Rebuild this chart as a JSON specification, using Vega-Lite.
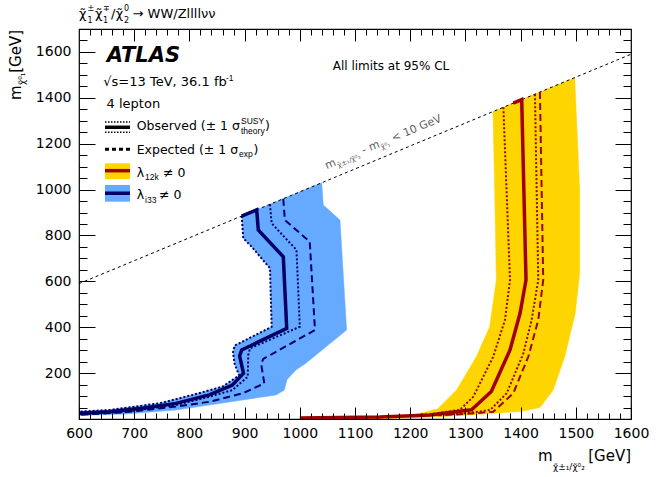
{
  "$schema": "https://vega.github.io/schema/vega-lite/v6.json",
  "width": 552,
  "height": 390,
  "autosize": {"type": "none"},
  "padding": {"left": 79, "top": 29, "right": 33, "bottom": 58},
  "background": "white",
  "config": {"view": {"stroke": "black", "strokeWidth": 1.2}},
  "resolve": {"axis": {"x": "independent", "y": "independent"}},
  "datasets": {
    "bands": [
      {"m": "12k", "i": 1, "x": 1350, "y": 1340},
      {"m": "12k", "i": 2, "x": 1498, "y": 1488},
      {"m": "12k", "i": 3, "x": 1507, "y": 1000},
      {"m": "12k", "i": 4, "x": 1507, "y": 635},
      {"m": "12k", "i": 5, "x": 1499, "y": 461},
      {"m": "12k", "i": 6, "x": 1480, "y": 272},
      {"m": "12k", "i": 7, "x": 1459, "y": 126},
      {"m": "12k", "i": 8, "x": 1435, "y": 50},
      {"m": "12k", "i": 9, "x": 1400, "y": 33},
      {"m": "12k", "i": 10, "x": 1326, "y": 21},
      {"m": "12k", "i": 11, "x": 1260, "y": 11},
      {"m": "12k", "i": 12, "x": 1190, "y": 4},
      {"m": "12k", "i": 13, "x": 1140, "y": 1},
      {"m": "12k", "i": 14, "x": 1170, "y": 7},
      {"m": "12k", "i": 15, "x": 1210, "y": 20},
      {"m": "12k", "i": 16, "x": 1250, "y": 45},
      {"m": "12k", "i": 17, "x": 1284, "y": 126},
      {"m": "12k", "i": 18, "x": 1320, "y": 272},
      {"m": "12k", "i": 19, "x": 1344, "y": 402},
      {"m": "12k", "i": 20, "x": 1356, "y": 606},
      {"m": "12k", "i": 21, "x": 1353, "y": 1000},
      {"m": "12k", "i": 22, "x": 1350, "y": 1340},
      {"m": "i33", "i": 1, "x": 894.7, "y": 884.7},
      {"m": "i33", "i": 2, "x": 1039.6, "y": 1029.6},
      {"m": "i33", "i": 3, "x": 1042.6, "y": 933},
      {"m": "i33", "i": 4, "x": 1072.8, "y": 867},
      {"m": "i33", "i": 5, "x": 1084.8, "y": 388},
      {"m": "i33", "i": 6, "x": 1011, "y": 243},
      {"m": "i33", "i": 7, "x": 993, "y": 214},
      {"m": "i33", "i": 8, "x": 977, "y": 172},
      {"m": "i33", "i": 9, "x": 972, "y": 126},
      {"m": "i33", "i": 10, "x": 957, "y": 105},
      {"m": "i33", "i": 11, "x": 896.5, "y": 83},
      {"m": "i33", "i": 12, "x": 836, "y": 61},
      {"m": "i33", "i": 13, "x": 775.7, "y": 39},
      {"m": "i33", "i": 14, "x": 685, "y": 22},
      {"m": "i33", "i": 15, "x": 600, "y": 15},
      {"m": "i33", "i": 16, "x": 600, "y": 33},
      {"m": "i33", "i": 17, "x": 655, "y": 40},
      {"m": "i33", "i": 18, "x": 745, "y": 69},
      {"m": "i33", "i": 19, "x": 806, "y": 106},
      {"m": "i33", "i": 20, "x": 860, "y": 142},
      {"m": "i33", "i": 21, "x": 890, "y": 190},
      {"m": "i33", "i": 22, "x": 882, "y": 240},
      {"m": "i33", "i": 23, "x": 879, "y": 290},
      {"m": "i33", "i": 24, "x": 882, "y": 320},
      {"m": "i33", "i": 25, "x": 949, "y": 402},
      {"m": "i33", "i": 26, "x": 946, "y": 657},
      {"m": "i33", "i": 27, "x": 912.7, "y": 751},
      {"m": "i33", "i": 28, "x": 897.6, "y": 788},
      {"m": "i33", "i": 29, "x": 894.7, "y": 884.7}
    ],
    "curves": [
      {"m": "i33", "k": "obs", "i": 1, "x": 894.7, "y": 884.7},
      {"m": "i33", "k": "obs", "i": 2, "x": 921.9, "y": 911.9},
      {"m": "i33", "k": "obs", "i": 3, "x": 924.8, "y": 824},
      {"m": "i33", "k": "obs", "i": 4, "x": 970.1, "y": 707},
      {"m": "i33", "k": "obs", "i": 5, "x": 976.3, "y": 395},
      {"m": "i33", "k": "obs", "i": 6, "x": 894.7, "y": 301},
      {"m": "i33", "k": "obs", "i": 7, "x": 891, "y": 275},
      {"m": "i33", "k": "obs", "i": 8, "x": 898, "y": 199},
      {"m": "i33", "k": "obs", "i": 9, "x": 878, "y": 148},
      {"m": "i33", "k": "obs", "i": 10, "x": 836, "y": 105},
      {"m": "i33", "k": "obs", "i": 11, "x": 775.7, "y": 68},
      {"m": "i33", "k": "obs", "i": 12, "x": 715, "y": 47},
      {"m": "i33", "k": "obs", "i": 13, "x": 655, "y": 32},
      {"m": "i33", "k": "obs", "i": 14, "x": 600, "y": 25},
      {"m": "i33", "k": "obsDn", "i": 1, "x": 894.7, "y": 884.7},
      {"m": "i33", "k": "obsDn", "i": 2, "x": 897.6, "y": 788},
      {"m": "i33", "k": "obsDn", "i": 3, "x": 912.7, "y": 751},
      {"m": "i33", "k": "obsDn", "i": 4, "x": 946, "y": 657},
      {"m": "i33", "k": "obsDn", "i": 5, "x": 949, "y": 402},
      {"m": "i33", "k": "obsDn", "i": 6, "x": 882, "y": 320},
      {"m": "i33", "k": "obsDn", "i": 7, "x": 879, "y": 290},
      {"m": "i33", "k": "obsDn", "i": 8, "x": 882, "y": 240},
      {"m": "i33", "k": "obsDn", "i": 9, "x": 890, "y": 190},
      {"m": "i33", "k": "obsDn", "i": 10, "x": 860, "y": 141},
      {"m": "i33", "k": "obsDn", "i": 11, "x": 806, "y": 105},
      {"m": "i33", "k": "obsDn", "i": 12, "x": 745, "y": 68},
      {"m": "i33", "k": "obsDn", "i": 13, "x": 655, "y": 39},
      {"m": "i33", "k": "obsDn", "i": 14, "x": 600, "y": 32},
      {"m": "i33", "k": "obsUp", "i": 1, "x": 946, "y": 936},
      {"m": "i33", "k": "obsUp", "i": 2, "x": 949, "y": 853},
      {"m": "i33", "k": "obsUp", "i": 3, "x": 994, "y": 737},
      {"m": "i33", "k": "obsUp", "i": 4, "x": 1000, "y": 402},
      {"m": "i33", "k": "obsUp", "i": 5, "x": 909.8, "y": 308},
      {"m": "i33", "k": "obsUp", "i": 6, "x": 906.7, "y": 279},
      {"m": "i33", "k": "obsUp", "i": 7, "x": 905.6, "y": 184},
      {"m": "i33", "k": "obsUp", "i": 8, "x": 878, "y": 126},
      {"m": "i33", "k": "obsUp", "i": 9, "x": 836, "y": 97},
      {"m": "i33", "k": "obsUp", "i": 10, "x": 775.7, "y": 61},
      {"m": "i33", "k": "obsUp", "i": 11, "x": 685, "y": 32},
      {"m": "i33", "k": "obsUp", "i": 12, "x": 600, "y": 20},
      {"m": "i33", "k": "exp", "i": 1, "x": 970, "y": 960},
      {"m": "i33", "k": "exp", "i": 2, "x": 973, "y": 867},
      {"m": "i33", "k": "exp", "i": 3, "x": 1018, "y": 773},
      {"m": "i33", "k": "exp", "i": 4, "x": 1027.5, "y": 388},
      {"m": "i33", "k": "exp", "i": 5, "x": 933.9, "y": 262},
      {"m": "i33", "k": "exp", "i": 6, "x": 930, "y": 240},
      {"m": "i33", "k": "exp", "i": 7, "x": 935.7, "y": 155},
      {"m": "i33", "k": "exp", "i": 8, "x": 896.5, "y": 112},
      {"m": "i33", "k": "exp", "i": 9, "x": 836, "y": 75},
      {"m": "i33", "k": "exp", "i": 10, "x": 775.7, "y": 54},
      {"m": "i33", "k": "exp", "i": 11, "x": 685, "y": 30},
      {"m": "i33", "k": "exp", "i": 12, "x": 600, "y": 18},
      {"m": "12k", "k": "obs", "i": 1, "x": 1386.7, "y": 1376.7},
      {"m": "12k", "k": "obs", "i": 2, "x": 1402, "y": 1392},
      {"m": "12k", "k": "obs", "i": 3, "x": 1409.8, "y": 606},
      {"m": "12k", "k": "obs", "i": 4, "x": 1399, "y": 461},
      {"m": "12k", "k": "obs", "i": 5, "x": 1380.8, "y": 301},
      {"m": "12k", "k": "obs", "i": 6, "x": 1347, "y": 120},
      {"m": "12k", "k": "obs", "i": 7, "x": 1311, "y": 40},
      {"m": "12k", "k": "obs", "i": 8, "x": 1236, "y": 17},
      {"m": "12k", "k": "obs", "i": 9, "x": 1145, "y": 9},
      {"m": "12k", "k": "obs", "i": 10, "x": 1000, "y": 4},
      {"m": "12k", "k": "obsDn", "i": 1, "x": 1368.8, "y": 1358.8},
      {"m": "12k", "k": "obsDn", "i": 2, "x": 1380.8, "y": 606},
      {"m": "12k", "k": "obsDn", "i": 3, "x": 1371.7, "y": 432},
      {"m": "12k", "k": "obsDn", "i": 4, "x": 1350.5, "y": 272},
      {"m": "12k", "k": "obsDn", "i": 5, "x": 1314.3, "y": 97},
      {"m": "12k", "k": "obsDn", "i": 6, "x": 1290, "y": 40},
      {"m": "12k", "k": "obsDn", "i": 7, "x": 1240, "y": 22},
      {"m": "12k", "k": "obsDn", "i": 8, "x": 1200, "y": 14},
      {"m": "12k", "k": "obsUp", "i": 1, "x": 1426, "y": 1416},
      {"m": "12k", "k": "obsUp", "i": 2, "x": 1432, "y": 606},
      {"m": "12k", "k": "obsUp", "i": 3, "x": 1420, "y": 432},
      {"m": "12k", "k": "obsUp", "i": 4, "x": 1405, "y": 286},
      {"m": "12k", "k": "obsUp", "i": 5, "x": 1374.8, "y": 112},
      {"m": "12k", "k": "obsUp", "i": 6, "x": 1344.6, "y": 39},
      {"m": "12k", "k": "obsUp", "i": 7, "x": 1300, "y": 25},
      {"m": "12k", "k": "obsUp", "i": 8, "x": 1250, "y": 18},
      {"m": "12k", "k": "exp", "i": 1, "x": 1435, "y": 1425},
      {"m": "12k", "k": "exp", "i": 2, "x": 1441, "y": 606},
      {"m": "12k", "k": "exp", "i": 3, "x": 1432, "y": 432},
      {"m": "12k", "k": "exp", "i": 4, "x": 1414, "y": 272},
      {"m": "12k", "k": "exp", "i": 5, "x": 1386.7, "y": 112},
      {"m": "12k", "k": "exp", "i": 6, "x": 1350.5, "y": 32},
      {"m": "12k", "k": "exp", "i": 7, "x": 1300, "y": 22},
      {"m": "12k", "k": "exp", "i": 8, "x": 1250, "y": 16}
    ]
  },
  "layer": [
    {
      "data": {"name": "bands"},
      "transform": [{"filter": "datum.m === '12k'"}],
      "mark": {"type": "line", "fill": "#FFD500", "stroke": "#FFD500", "strokeWidth": 0.5, "clip": true},
      "encoding": {
        "x": {"field": "x", "type": "quantitative", "scale": {"domain": [600, 1600], "nice": false, "zero": false}, "axis": null},
        "y": {"field": "y", "type": "quantitative", "scale": {"domain": [0, 1700], "nice": false, "zero": false}, "axis": null},
        "order": {"field": "i", "type": "quantitative"}
      }
    },
    {
      "data": {"name": "bands"},
      "transform": [{"filter": "datum.m === 'i33'"}],
      "mark": {"type": "line", "fill": "#66AAFF", "stroke": "#66AAFF", "strokeWidth": 0.5, "clip": true},
      "encoding": {
        "x": {"field": "x", "type": "quantitative", "axis": null},
        "y": {"field": "y", "type": "quantitative", "axis": null},
        "order": {"field": "i", "type": "quantitative"}
      }
    },
    {
      "data": {"values": [{"x": 600, "y": 590}, {"x": 1600, "y": 1590}]},
      "mark": {"type": "line", "color": "black", "strokeWidth": 1, "strokeDash": [3, 3]},
      "encoding": {
        "x": {"field": "x", "type": "quantitative", "axis": null},
        "y": {"field": "y", "type": "quantitative", "axis": null}
      }
    },
    {
      "data": {"name": "curves"},
      "transform": [{"filter": "datum.k === 'exp'"}],
      "mark": {"type": "line", "strokeWidth": 2, "strokeDash": [7, 4], "clip": true},
      "encoding": {
        "x": {"field": "x", "type": "quantitative", "axis": null},
        "y": {"field": "y", "type": "quantitative", "axis": null},
        "color": {"field": "m", "type": "nominal", "scale": {"domain": ["i33", "12k"], "range": ["#000066", "#A00000"]}, "legend": null},
        "order": {"field": "i", "type": "quantitative"}
      }
    },
    {
      "data": {"name": "curves"},
      "transform": [{"filter": "datum.k === 'obsUp' || datum.k === 'obsDn'"}],
      "mark": {"type": "line", "strokeWidth": 2, "strokeDash": [2, 2], "clip": true},
      "encoding": {
        "x": {"field": "x", "type": "quantitative", "axis": null},
        "y": {"field": "y", "type": "quantitative", "axis": null},
        "color": {"field": "m", "type": "nominal", "legend": null},
        "detail": {"field": "k"},
        "order": {"field": "i", "type": "quantitative"}
      }
    },
    {
      "data": {"name": "curves"},
      "transform": [{"filter": "datum.k === 'obs'"}],
      "mark": {"type": "line", "strokeWidth": 3.5, "clip": true},
      "encoding": {
        "x": {"field": "x", "type": "quantitative", "axis": null},
        "y": {"field": "y", "type": "quantitative", "axis": null},
        "color": {"field": "m", "type": "nominal", "legend": null},
        "order": {"field": "i", "type": "quantitative"}
      }
    },
    {
      "data": {"values": [{}]},
      "mark": {"type": "rect", "fill": "#FFD500"},
      "encoding": {
        "x": {"datum": 647.1, "type": "quantitative", "axis": null},
        "x2": {"datum": 692.4},
        "y": {"datum": 1046, "type": "quantitative", "axis": null},
        "y2": {"datum": 1114.6}
      }
    },
    {
      "data": {"values": [{}]},
      "mark": {"type": "rect", "fill": "#66AAFF"},
      "encoding": {
        "x": {"datum": 647.1, "type": "quantitative", "axis": null},
        "x2": {"datum": 692.4},
        "y": {"datum": 947.3, "type": "quantitative", "axis": null},
        "y2": {"datum": 1020}
      }
    },
    {
      "data": {"values": [{}]},
      "mark": {"type": "rule", "color": "#A00000", "strokeWidth": 3.5},
      "encoding": {
        "x": {"datum": 647.1, "type": "quantitative", "axis": null},
        "x2": {"datum": 692.4},
        "y": {"datum": 1082.4, "type": "quantitative", "axis": null}
      }
    },
    {
      "data": {"values": [{}]},
      "mark": {"type": "rule", "color": "#000066", "strokeWidth": 3.5},
      "encoding": {
        "x": {"datum": 647.1, "type": "quantitative", "axis": null},
        "x2": {"datum": 692.4},
        "y": {"datum": 984, "type": "quantitative", "axis": null}
      }
    },
    {
      "data": {"values": [{}]},
      "mark": {"type": "rule", "color": "black", "strokeWidth": 3.5},
      "encoding": {
        "x": {"datum": 647.1, "type": "quantitative", "axis": null},
        "x2": {"datum": 692.4},
        "y": {"datum": 1271.6, "type": "quantitative", "axis": null}
      }
    },
    {
      "data": {"values": [{}]},
      "mark": {"type": "rule", "color": "black", "strokeWidth": 1.5, "strokeDash": [1.5, 1.5]},
      "encoding": {
        "x": {"datum": 647.1, "type": "quantitative", "axis": null},
        "x2": {"datum": 692.4},
        "y": {"datum": 1295, "type": "quantitative", "axis": null}
      }
    },
    {
      "data": {"values": [{}]},
      "mark": {"type": "rule", "color": "black", "strokeWidth": 1.5, "strokeDash": [1.5, 1.5]},
      "encoding": {
        "x": {"datum": 647.1, "type": "quantitative", "axis": null},
        "x2": {"datum": 692.4},
        "y": {"datum": 1250, "type": "quantitative", "axis": null}
      }
    },
    {
      "data": {"values": [{}]},
      "mark": {"type": "rule", "color": "black", "strokeWidth": 3, "strokeDash": [4, 3]},
      "encoding": {
        "x": {"datum": 647.1, "type": "quantitative", "axis": null},
        "x2": {"datum": 692.4},
        "y": {"datum": 1175.6, "type": "quantitative", "axis": null}
      }
    },
    {
      "data": {"values": [{"t": "ATLAS"}]},
      "mark": {"type": "text", "font": "DejaVu Sans", "fontSize": 21, "fontWeight": "bold", "fontStyle": "italic", "align": "left", "baseline": "alphabetic", "color": "black"},
      "encoding": {
        "x": {"datum": 650.2, "type": "quantitative", "axis": null},
        "y": {"datum": 1557, "type": "quantitative", "axis": null},
        "text": {"field": "t"}
      }
    },
    {
      "data": {"values": [
        {"x": 650, "y": 1354.4, "t": "4 lepton"},
        {"x": 644, "y": 1451.6, "t": "\u221as=13 TeV, 36.1 fb"}
      ]},
      "mark": {"type": "text", "font": "DejaVu Sans", "fontSize": 13, "align": "left", "baseline": "alphabetic", "color": "black"},
      "encoding": {
        "x": {"field": "x", "type": "quantitative", "axis": null},
        "y": {"field": "y", "type": "quantitative", "axis": null},
        "text": {"field": "t"}
      }
    },
    {
      "data": {"values": [
        {"x": 704.5, "y": 1259.8, "t": "Observed (\u00b1 1 \u03c3"},
        {"x": 937, "y": 1259.8, "t": ")"},
        {"x": 704.5, "y": 1155, "t": "Expected (\u00b1 1 \u03c3"},
        {"x": 916, "y": 1155, "t": ")"},
        {"x": 704.5, "y": 1056, "t": "\u03bb"},
        {"x": 752.2, "y": 1056, "t": "\u2260 0"},
        {"x": 704.5, "y": 957.5, "t": "\u03bb"},
        {"x": 744.9, "y": 957.5, "t": "\u2260 0"}
      ]},
      "mark": {"type": "text", "font": "DejaVu Sans", "fontSize": 12.5, "align": "left", "baseline": "alphabetic", "color": "black"},
      "encoding": {
        "x": {"field": "x", "type": "quantitative", "axis": null},
        "y": {"field": "y", "type": "quantitative", "axis": null},
        "text": {"field": "t"}
      }
    },
    {
      "data": {"values": [
        {"x": 893.5, "y": 1286, "t": "SUSY"},
        {"x": 893.5, "y": 1242, "t": "theory"},
        {"x": 889.9, "y": 1142, "t": "exp"},
        {"x": 719.6, "y": 1042, "t": "12k"},
        {"x": 719.6, "y": 941.6, "t": "i33"},
        {"x": 866.3, "y": 1472, "t": "-1"}
      ]},
      "mark": {"type": "text", "font": "Liberation Sans", "fontSize": 8.5, "align": "left", "baseline": "alphabetic", "color": "black"},
      "encoding": {
        "x": {"field": "x", "type": "quantitative", "axis": null},
        "y": {"field": "y", "type": "quantitative", "axis": null},
        "text": {"field": "t"}
      }
    },
    {
      "data": {"values": [{"t": "All limits at 95% CL"}]},
      "mark": {"type": "text", "font": "DejaVu Sans", "fontSize": 12, "align": "left", "baseline": "alphabetic", "color": "black"},
      "encoding": {
        "x": {"datum": 1059.6, "type": "quantitative", "axis": null},
        "y": {"datum": 1521.3, "type": "quantitative", "axis": null},
        "text": {"field": "t"}
      }
    },
    {
      "data": {"values": [
        {"x": 600, "y": 1746.7, "t": "\u03c7\u0303"},
        {"x": 629, "y": 1746.7, "t": "\u03c7\u0303"},
        {"x": 658, "y": 1746.7, "t": "/"},
        {"x": 666.7, "y": 1746.7, "t": "\u03c7\u0303"},
        {"x": 697.1, "y": 1746.7, "t": "\u2192 WW/Zllll\u03bd\u03bd"}
      ]},
      "mark": {"type": "text", "font": "DejaVu Sans", "fontSize": 13, "align": "left", "baseline": "alphabetic", "color": "black"},
      "encoding": {
        "x": {"field": "x", "type": "quantitative", "axis": null},
        "y": {"field": "y", "type": "quantitative", "axis": null},
        "text": {"field": "t"}
      }
    },
    {
      "data": {"values": [
        {"x": 615.4, "y": 1777, "t": "\u00b1"},
        {"x": 615.4, "y": 1725, "t": "1"},
        {"x": 643.5, "y": 1777, "t": "\u2213"},
        {"x": 643.5, "y": 1725, "t": "1"},
        {"x": 681.5, "y": 1777, "t": "0"},
        {"x": 681.5, "y": 1725, "t": "2"}
      ]},
      "mark": {"type": "text", "font": "DejaVu Sans", "fontSize": 8, "align": "left", "baseline": "alphabetic", "color": "black"},
      "encoding": {
        "x": {"field": "x", "type": "quantitative", "axis": null},
        "y": {"field": "y", "type": "quantitative", "axis": null},
        "text": {"field": "t"}
      }
    },
    {
      "data": {"values": [
        {"x": 1457.8, "y": -183, "t": "m"},
        {"x": 1600, "y": -183, "t": "[GeV]"}
      ]},
      "mark": {"type": "text", "font": "DejaVu Sans", "fontSize": 15, "align": "right", "baseline": "alphabetic", "color": "black"},
      "encoding": {
        "x": {"field": "x", "type": "quantitative", "axis": null},
        "y": {"field": "y", "type": "quantitative", "axis": null},
        "text": {"field": "t"}
      }
    },
    {
      "data": {"values": [
        {"x": 1458.7, "y": -222.3, "t": "\u03c7\u0303\u00b1\u2081/\u03c7\u0303\u2070\u2082"}
      ]},
      "mark": {"type": "text", "font": "DejaVu Sans", "fontSize": 9, "align": "left", "baseline": "alphabetic", "color": "black"},
      "encoding": {
        "x": {"field": "x", "type": "quantitative", "axis": null},
        "y": {"field": "y", "type": "quantitative", "axis": null},
        "text": {"field": "t"}
      }
    },
    {
      "data": {"values": [
        {"x": 494.9, "y": 1390.6, "t": "m"},
        {"x": 494.9, "y": 1509, "t": "[GeV]"}
      ]},
      "mark": {"type": "text", "font": "DejaVu Sans", "fontSize": 15, "align": "left", "baseline": "alphabetic", "angle": 270, "color": "black"},
      "encoding": {
        "x": {"field": "x", "type": "quantitative", "axis": null},
        "y": {"field": "y", "type": "quantitative", "axis": null},
        "text": {"field": "t"}
      }
    },
    {
      "data": {"values": [
        {"x": 502.2, "y": 1456, "t": "\u03c7\u0303\u2070\u2081"}
      ]},
      "mark": {"type": "text", "font": "DejaVu Sans", "fontSize": 9, "align": "left", "baseline": "alphabetic", "angle": 270, "color": "black"},
      "encoding": {
        "x": {"field": "x", "type": "quantitative", "axis": null},
        "y": {"field": "y", "type": "quantitative", "axis": null},
        "text": {"field": "t"}
      }
    },
    {
      "data": {"values": [
        {"x": 1048.7, "y": 1088.5, "t": "m"},
        {"x": 1115.6, "y": 1155.4, "t": "- m"},
        {"x": 1169.2, "y": 1209.0, "t": "< 10 GeV"}
      ]},
      "mark": {"type": "text", "font": "DejaVu Sans", "fontSize": 11, "align": "left", "baseline": "alphabetic", "angle": 337.44, "color": "#606060"},
      "encoding": {
        "x": {"field": "x", "type": "quantitative", "axis": null},
        "y": {"field": "y", "type": "quantitative", "axis": null},
        "text": {"field": "t"}
      }
    },
    {
      "data": {"values": [
        {"x": 1070.0, "y": 1095.7, "t": "\u03c7\u0303\u00b1\u2081/\u03c7\u0303\u2070\u2082"},
        {"x": 1149.0, "y": 1174.6, "t": "\u03c7\u0303\u2070\u2081"}
      ]},
      "mark": {"type": "text", "font": "DejaVu Sans", "fontSize": 7, "align": "left", "baseline": "alphabetic", "angle": 337.44, "color": "#606060"},
      "encoding": {
        "x": {"field": "x", "type": "quantitative", "axis": null},
        "y": {"field": "y", "type": "quantitative", "axis": null},
        "text": {"field": "t"}
      }
    },
    {
      "data": {"values": [{}]},
      "mark": {"type": "point", "opacity": 0},
      "encoding": {
        "x": {"datum": 600, "type": "quantitative", "axis": {"orient": "bottom", "values": [600, 700, 800, 900, 1000, 1100, 1200, 1300, 1400, 1500, 1600], "format": "d", "tickSize": -12, "tickColor": "black", "tickWidth": 1, "domain": false, "grid": false, "labelFont": "DejaVu Sans", "labelFontSize": 14, "labelColor": "black", "labelPadding": 19, "labelFlush": false, "labelOverlap": false, "labelBound": false, "title": null, "zindex": 2}},
        "y": {"datum": 0, "type": "quantitative", "axis": {"orient": "left", "values": [200, 400, 600, 800, 1000, 1200, 1400, 1600], "format": "d", "tickSize": -16, "tickColor": "black", "tickWidth": 1, "domain": false, "grid": false, "labelFont": "DejaVu Sans", "labelFontSize": 14, "labelColor": "black", "labelPadding": 24, "labelFlush": false, "labelOverlap": false, "labelBound": false, "title": null, "zindex": 2}}
      }
    },
    {
      "data": {"values": [{}]},
      "mark": {"type": "point", "opacity": 0},
      "encoding": {
        "x": {"datum": 600, "type": "quantitative", "axis": {"orient": "bottom", "values": [620, 640, 660, 680, 720, 740, 760, 780, 820, 840, 860, 880, 920, 940, 960, 980, 1020, 1040, 1060, 1080, 1120, 1140, 1160, 1180, 1220, 1240, 1260, 1280, 1320, 1340, 1360, 1380, 1420, 1440, 1460, 1480, 1520, 1540, 1560, 1580], "tickSize": -6, "tickColor": "black", "tickWidth": 1, "domain": false, "grid": false, "labels": false, "title": null, "zindex": 2}},
        "y": {"datum": 0, "type": "quantitative", "axis": {"orient": "left", "values": [50, 100, 150, 250, 300, 350, 450, 500, 550, 650, 700, 750, 850, 900, 950, 1050, 1100, 1150, 1250, 1300, 1350, 1450, 1500, 1550, 1650], "tickSize": -8, "tickColor": "black", "tickWidth": 1, "domain": false, "grid": false, "labels": false, "title": null, "zindex": 2}}
      }
    },
    {
      "data": {"values": [{}]},
      "mark": {"type": "point", "opacity": 0},
      "encoding": {
        "x": {"datum": 600, "type": "quantitative", "axis": {"orient": "top", "values": [700, 800, 900, 1000, 1100, 1200, 1300, 1400, 1500], "tickSize": -12, "tickColor": "black", "tickWidth": 1, "domain": false, "grid": false, "labels": false, "title": null, "zindex": 2}},
        "y": {"datum": 0, "type": "quantitative", "axis": {"orient": "right", "values": [200, 400, 600, 800, 1000, 1200, 1400, 1600], "tickSize": -16, "tickColor": "black", "tickWidth": 1, "domain": false, "grid": false, "labels": false, "title": null, "zindex": 2}}
      }
    },
    {
      "data": {"values": [{}]},
      "mark": {"type": "point", "opacity": 0},
      "encoding": {
        "x": {"datum": 600, "type": "quantitative", "axis": {"orient": "top", "values": [620, 640, 660, 680, 720, 740, 760, 780, 820, 840, 860, 880, 920, 940, 960, 980, 1020, 1040, 1060, 1080, 1120, 1140, 1160, 1180, 1220, 1240, 1260, 1280, 1320, 1340, 1360, 1380, 1420, 1440, 1460, 1480, 1520, 1540, 1560, 1580], "tickSize": -6, "tickColor": "black", "tickWidth": 1, "domain": false, "grid": false, "labels": false, "title": null, "zindex": 2}},
        "y": {"datum": 0, "type": "quantitative", "axis": {"orient": "right", "values": [50, 100, 150, 250, 300, 350, 450, 500, 550, 650, 700, 750, 850, 900, 950, 1050, 1100, 1150, 1250, 1300, 1350, 1450, 1500, 1550, 1650], "tickSize": -8, "tickColor": "black", "tickWidth": 1, "domain": false, "grid": false, "labels": false, "title": null, "zindex": 2}}
      }
    }
  ]
}
